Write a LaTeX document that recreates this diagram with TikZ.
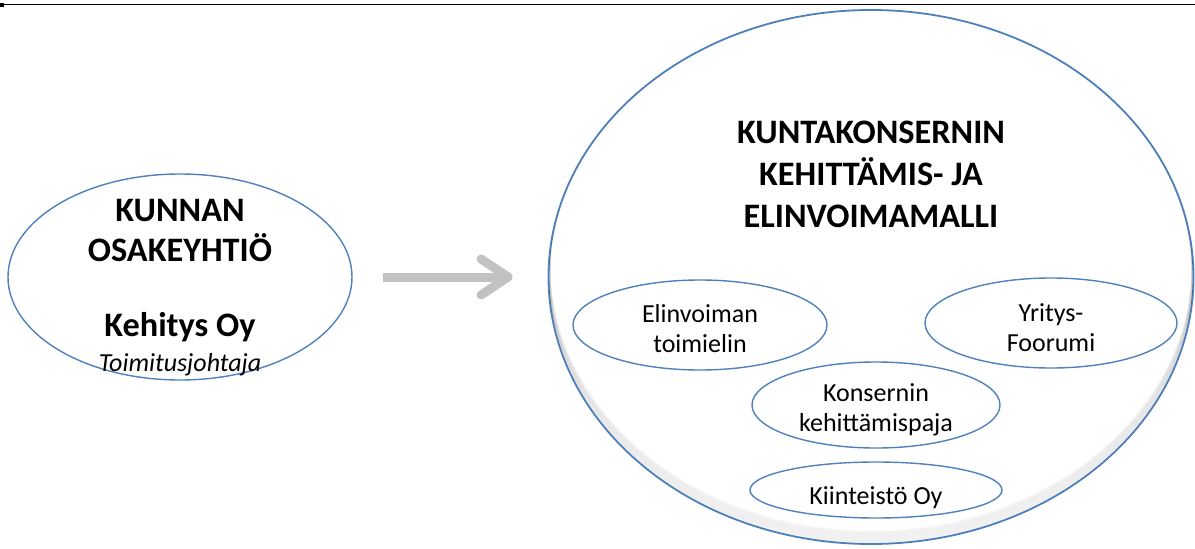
\documentclass[tikz,border=0pt]{standalone}
\usepackage{fontspec}
\setmainfont{Carlito}
\usetikzlibrary{arrows.meta,shapes.geometric}
\definecolor{kuplansini}{HTML}{4F81BD}
\definecolor{nuolenharmaa}{HTML}{C2C2C2}
\tikzset{
  kupla/.style={ellipse,draw=kuplansini,line width=1.4pt,fill=white,inner sep=0pt},
  isoteksti/.style={font=\fontsize{34.3}{40}\selectfont\bfseries,align=center,inner sep=0pt},
  pieniteksti/.style={font=\fontsize{26}{30}\selectfont,align=center,inner sep=0pt},
  nuoli/.style={draw=nuolenharmaa,line width=9pt,-{Straight Barb[length=27pt,width=36pt,round]},
    shorten <=30pt,shorten >=35pt},
}

\begin{document}
\begin{tikzpicture}[x=1pt,y=-1pt]
  \useasboundingbox (0,0) rectangle (1195,549);
  \fill[white] (0,0) rectangle (1195,549);
  \draw[line width=1.6pt] (0,4.3) -- (1195,4.3);
  \fill (0,3) rectangle (4,6.5);

  \node[kupla,minimum width=344pt,minimum height=206pt] (kunta) at (180,277) {};
  \node[isoteksti] (kunta-teksti) at (180,288)
    {KUNNAN\\OSAKEYHTIÖ\\[35pt]Kehitys Oy\\[-5pt]\fontsize{26}{28}\selectfont\mdseries\itshape Toimitusjohtaja};

  \node[kupla,line width=1.8pt,minimum width=645pt,minimum height=534pt] (malli) at (871,277) {};
  \begin{scope}
    \clip (871,277) ellipse [x radius=322, y radius=267];
    \foreach \k in {1,...,8}
      \draw[black,opacity=0.028,line width=3pt] (871,277-1.5*\k) ellipse [x radius=322, y radius=267];
  \end{scope}
  \node[isoteksti,font=\fontsize{34.3}{42}\selectfont\bfseries] (malli-otsikko) at (871,174.5)
    {KUNTAKONSERNIN\\KEHITTÄMIS- JA\\ELINVOIMAMALLI};

  \draw[nuoli] (kunta) -- (malli);

  \node[kupla,minimum width=254pt,minimum height=90pt] (elinvoima) at (700,325) {};
  \node[pieniteksti] (elinvoima-teksti) at (700,329) {Elinvoiman\\toimielin};
  \node[kupla,minimum width=252pt,minimum height=90pt] (yritys) at (1051,323) {};
  \node[pieniteksti] (yritys-teksti) at (1051,327.5) {Yritys-\\Foorumi};
  \node[kupla,minimum width=248pt,minimum height=86pt] (paja) at (876,405) {};
  \node[pieniteksti] (paja-teksti) at (876,410) {Konsernin\\kehittämispaja};
  \node[kupla,minimum width=252pt,minimum height=56pt] (kiinteisto) at (876,490) {};
  \node[pieniteksti] (kiinteisto-teksti) at (876,497.5) {Kiinteistö Oy};
\end{tikzpicture}
\end{document}
